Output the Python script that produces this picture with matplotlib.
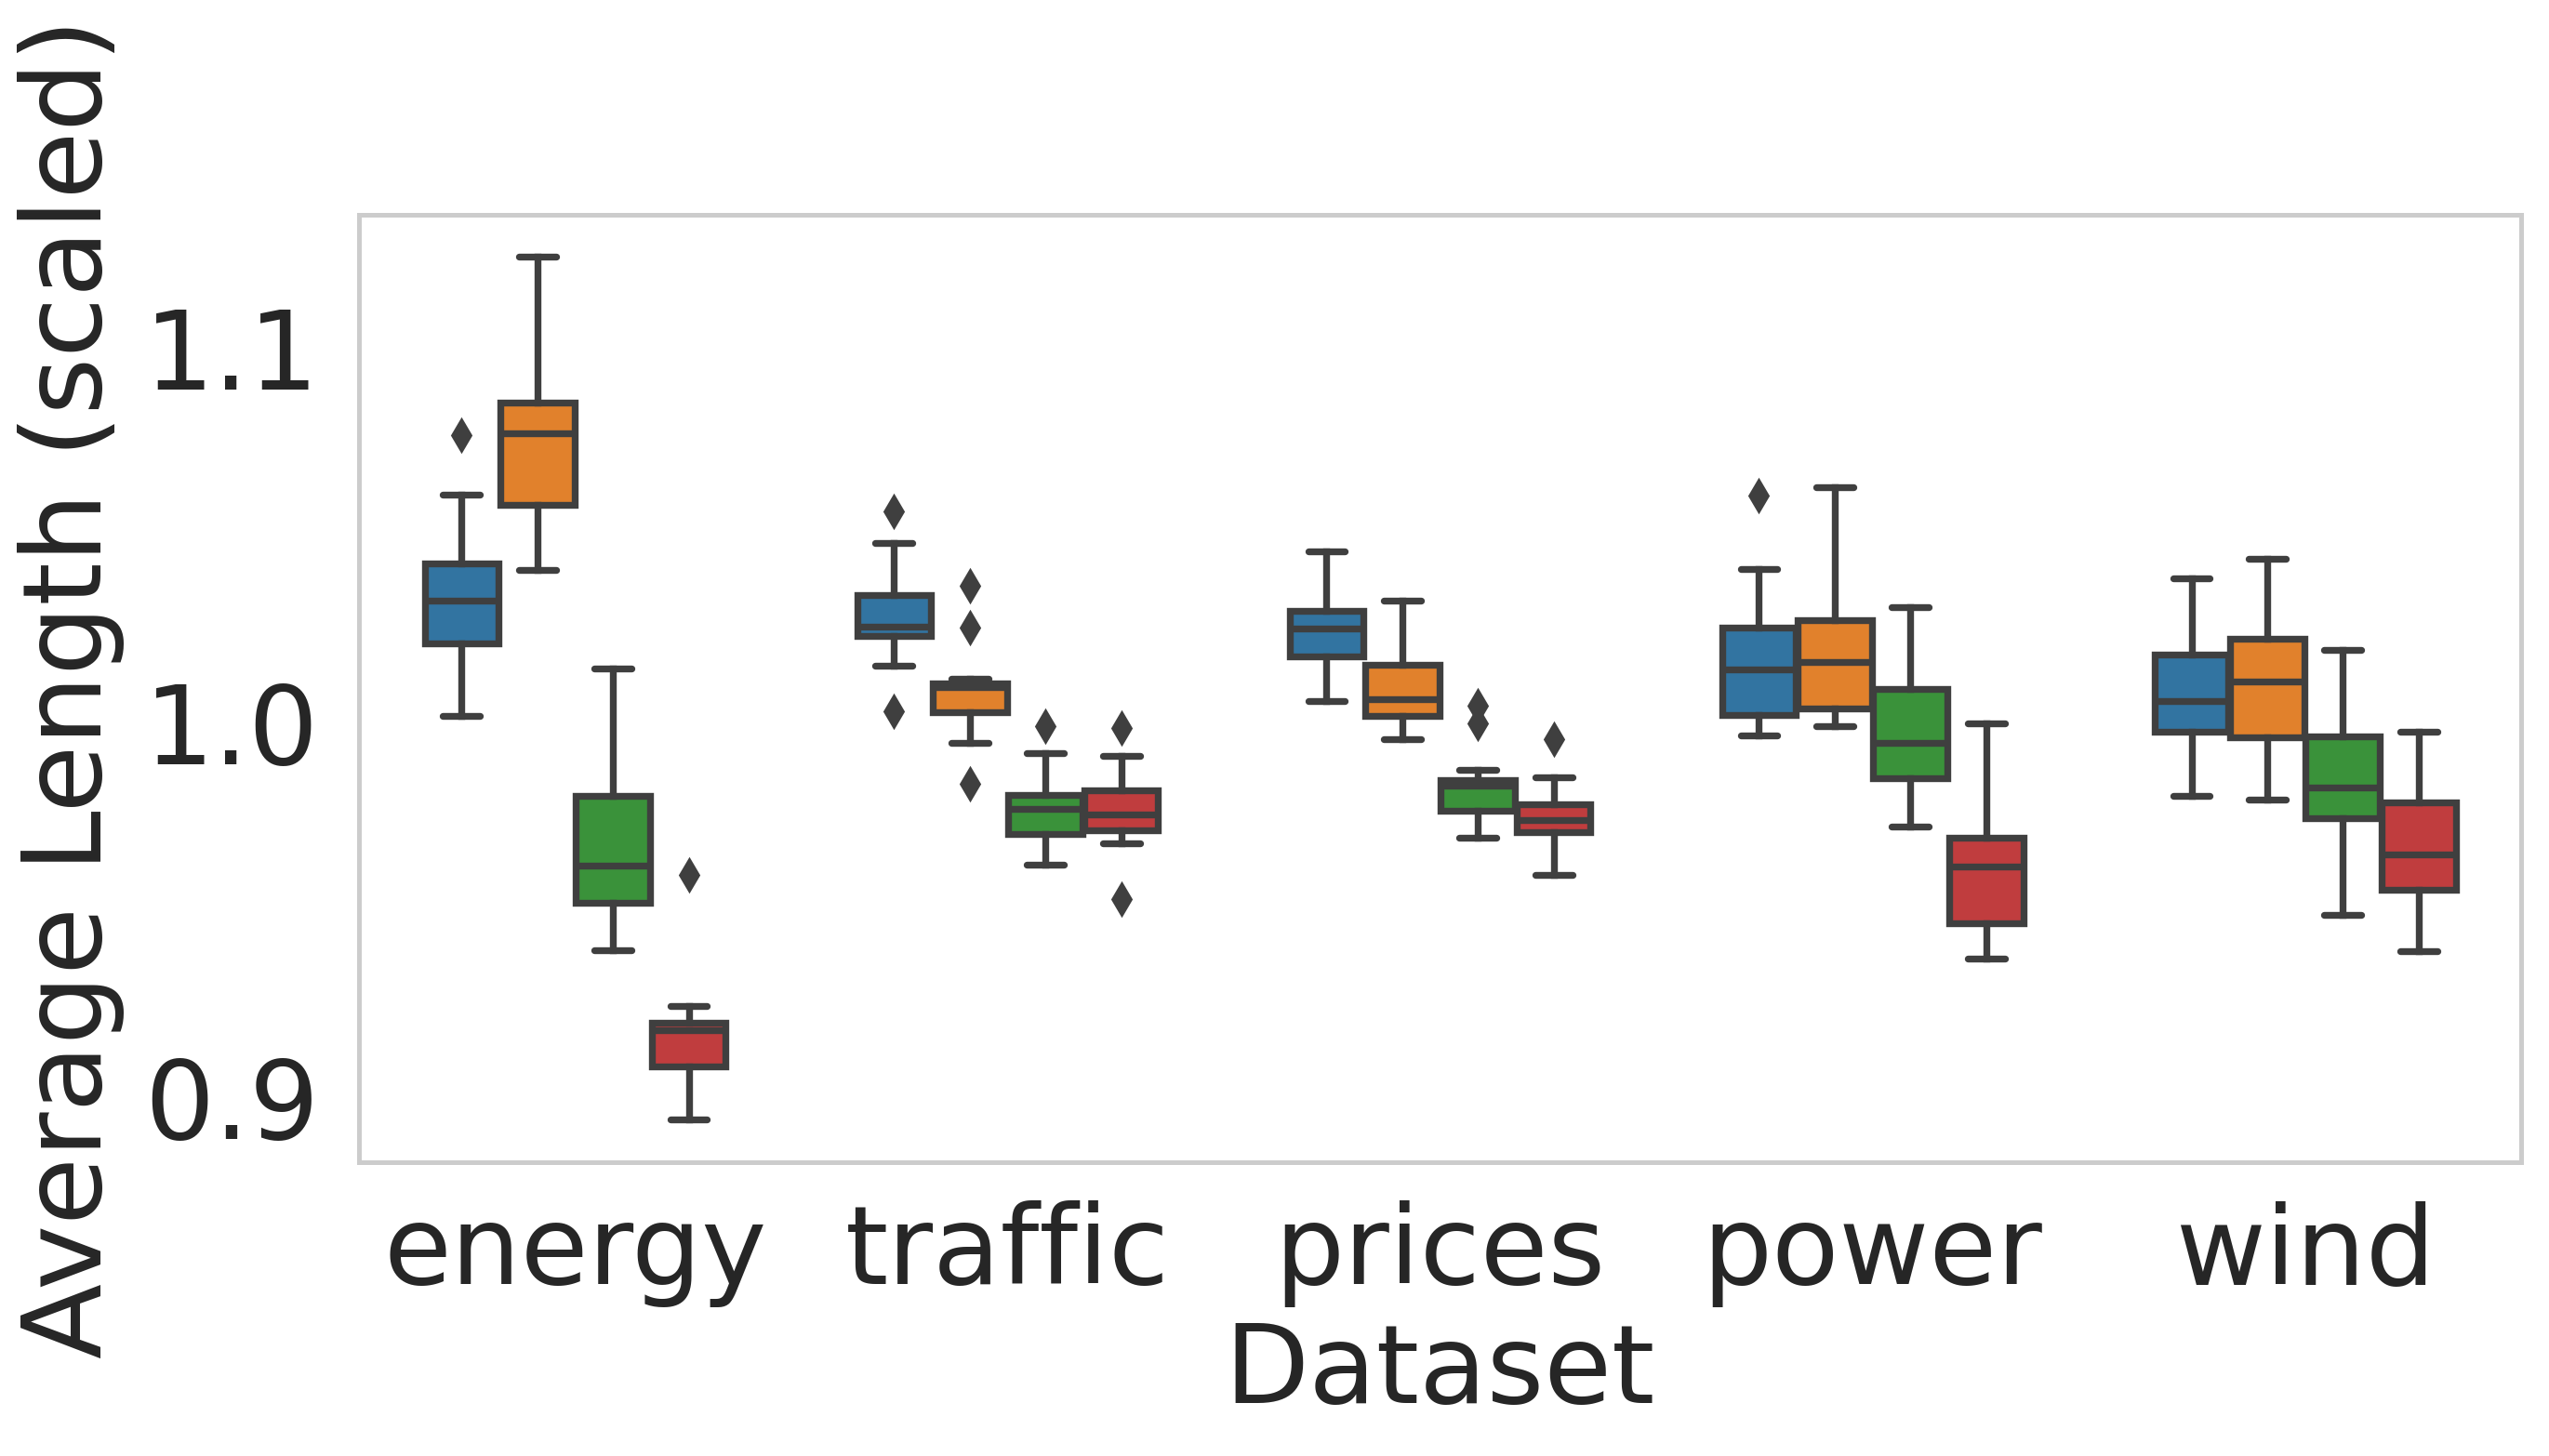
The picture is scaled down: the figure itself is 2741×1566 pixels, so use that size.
import numpy as np
import matplotlib.pyplot as plt

datasets = ["energy", "traffic", "prices", "power", "wind"]
methods = ["m1", "m2", "m3", "m4"]
colors = ["#3274a1", "#e1812c", "#3a923a", "#c03d3e"]

# rows = methods (hue levels), columns = datasets
whishi = [[1.0608, 1.0479, 1.0457, 1.0409, 1.0385],
          [1.1243, 1.0117, 1.0326, 1.0628, 1.0437],
          [1.0144, 0.9918, 0.9874, 1.0308, 1.0194],
          [0.9243, 0.9911, 0.9854, 0.9998, 0.9976]]
q3 = [[1.0424, 1.0340, 1.0297, 1.0253, 1.0181],
      [1.0854, 1.0104, 1.0154, 1.0274, 1.0222],
      [0.9804, 0.9806, 0.9845, 1.0089, 0.9963],
      [0.9199, 0.9819, 0.9782, 0.9692, 0.9786]]
med = [[1.0325, 1.0256, 1.0250, 1.0141, 1.0057],
       [1.0772, 1.0093, 1.0062, 1.0161, 1.0109],
       [0.9618, 0.9768, 0.9832, 0.9946, 0.9825],
       [0.9179, 0.9755, 0.9740, 0.9615, 0.9648]]
q1 = [[1.0211, 1.0231, 1.0176, 1.0020, 0.9976],
      [1.0581, 1.0028, 1.0017, 1.0037, 0.9961],
      [0.9519, 0.9701, 0.9763, 0.9850, 0.9743],
      [0.9082, 0.9711, 0.9706, 0.9465, 0.9553]]
whislo = [[1.0017, 1.0152, 1.0058, 0.9966, 0.9804],
          [1.0407, 0.9945, 0.9955, 0.9989, 0.9794],
          [0.9392, 0.9619, 0.9692, 0.9721, 0.9486],
          [0.8940, 0.9678, 0.9592, 0.9370, 0.9389]]
fliers = [[[1.0767], [1.0563, 1.0030], [], [1.0606], []],
          [[], [1.0365, 1.0252, 0.9835], [], [], []],
          [[], [0.9991], [1.0045, 0.9997], [], []],
          [[0.9593], [0.9986, 0.9529], [0.9954], [], []]]

gray = "#3f3f3f"
text_color = "#262626"
fs = 42.6

plt.rcParams["font.family"] = "DejaVu Sans"
fig = plt.figure(figsize=(13.705, 7.83), dpi=200)
ax = fig.add_axes([0.1408, 0.2018, 0.9891 - 0.1408, 0.8525 - 0.2018])

group_width = 0.7
n = len(methods)
each = group_width / n
offsets = np.linspace(0, group_width - each, n)
offsets -= offsets.mean()
lw = 2.65

for j in range(n):
    stats = []
    for i in range(len(datasets)):
        stats.append(dict(med=med[j][i], q1=q1[j][i], q3=q3[j][i],
                          whislo=whislo[j][i], whishi=whishi[j][i],
                          fliers=fliers[j][i]))
    pos = np.arange(len(datasets)) + offsets[j]
    bp = ax.bxp(stats, positions=pos, widths=each * 0.98, patch_artist=True,
                manage_ticks=False,
                boxprops=dict(edgecolor=gray, linewidth=lw, facecolor=colors[j]),
                medianprops=dict(color=gray, linewidth=lw),
                whiskerprops=dict(color=gray, linewidth=lw),
                capprops=dict(color=gray, linewidth=lw, solid_capstyle="round"),
                flierprops=dict(marker="d", markersize=8.6, markerfacecolor=gray,
                                markeredgecolor=gray, linestyle="none"))

ax.set_xlim(-0.5, len(datasets) - 0.5)
ax.set_ylim(0.8826, 1.1355)
ax.set_xticks(np.arange(len(datasets)))
ax.set_xticklabels(datasets)
ax.set_yticks([0.9, 1.0, 1.1])
ax.set_yticklabels(["0.9", "1.0", "1.1"])
ax.tick_params(axis="x", length=0, pad=14.6, labelsize=fs, labelcolor=text_color)
ax.tick_params(axis="y", length=0, pad=15.3, labelsize=fs, labelcolor=text_color)
ax.set_xlabel("Dataset", fontsize=fs, color=text_color, labelpad=5)
ax.set_ylabel("Average Length (scaled)", fontsize=fs, color=text_color, labelpad=7.5)

for s in ax.spines.values():
    s.set_color("#cccccc")
    s.set_linewidth(1.8)

fig.savefig("out.png", dpi=200)
